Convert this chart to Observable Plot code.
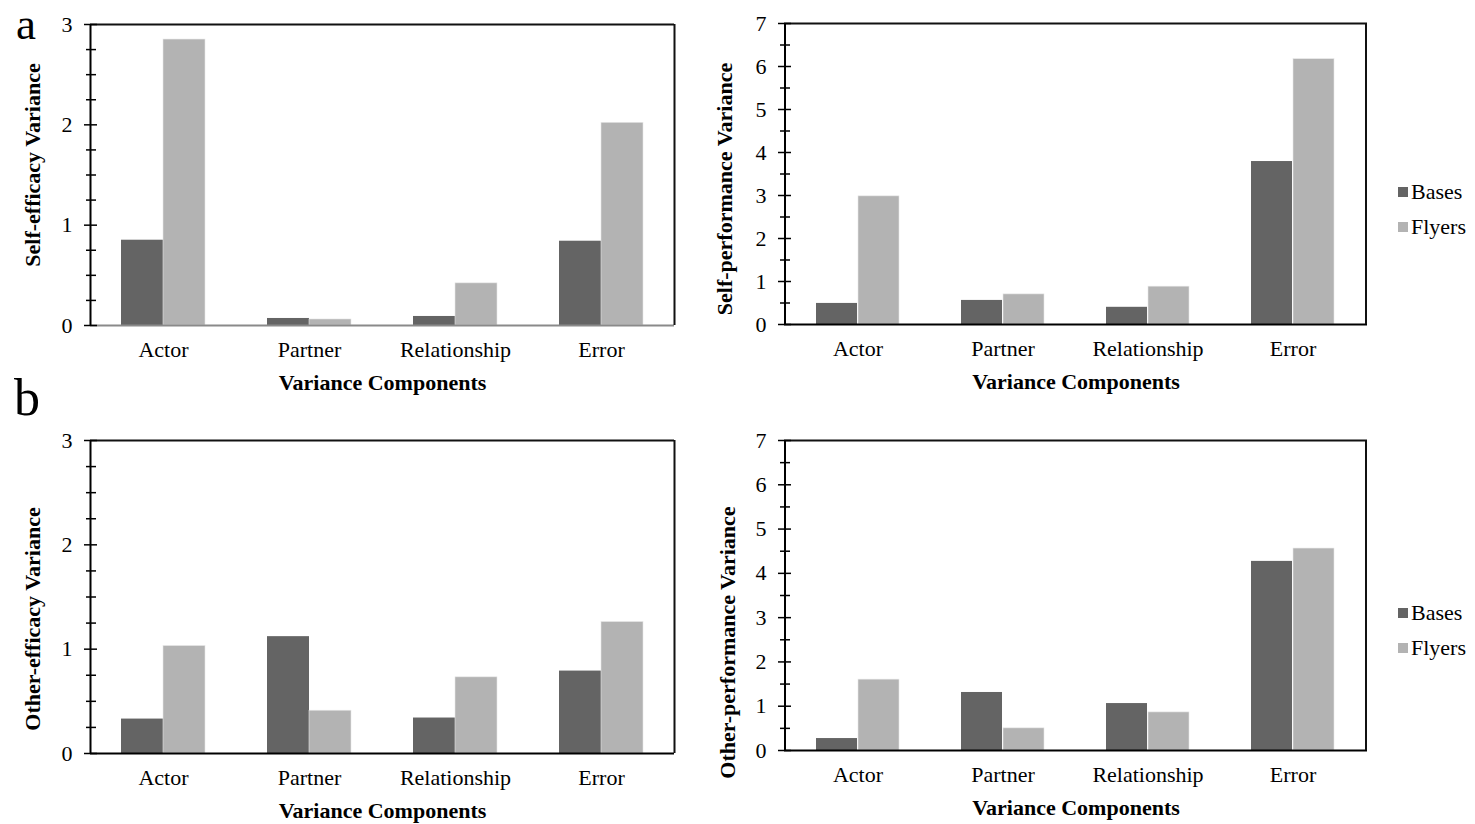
<!DOCTYPE html>
<html>
<head>
<meta charset="utf-8">
<script src="https://cdn.jsdelivr.net/npm/d3@7"></script>
<script src="https://cdn.jsdelivr.net/npm/@observablehq/plot@0.6"></script>
<style>
  body { margin: 0; background: #fff; }
  #root { position: relative; width: 1475px; height: 824px; font-family: "Liberation Serif", "Times New Roman", serif; }
  .panel { position: absolute; }
  .letter { position: absolute; line-height: 1.11; color: #000; }
  .legend { position: absolute; font-size: 22px; color: #000; }
  .legend div { display: flex; align-items: center; height: 35px; }
  .legend span.sw { display: inline-block; width: 10px; height: 10px; margin-right: 3px; }
</style>
</head>
<body>
<div id="root"></div>
<script>
const categories = ["Actor", "Partner", "Relationship", "Error"];
const seriesNames = ["Bases", "Flyers"];
const seriesColors = ["#646464", "#b3b3b3"];

const selfEfficacyBases  = [0.85, 0.07, 0.09, 0.84];
const selfEfficacyFlyers = [2.85, 0.06, 0.42, 2.02];
const selfPerfBases      = [0.49, 0.56, 0.40, 3.79];
const selfPerfFlyers     = [2.98, 0.70, 0.88, 6.17];
const otherEfficacyBases  = [0.33, 1.12, 0.34, 0.79];
const otherEfficacyFlyers = [1.03, 0.41, 0.73, 1.26];
const otherPerfBases      = [0.27, 1.31, 1.06, 4.27];
const otherPerfFlyers     = [1.60, 0.50, 0.86, 4.56];

const efficacyMajor = [0, 1, 2, 3];
const efficacyMinor = [0.25, 0.5, 0.75, 1.25, 1.5, 1.75, 2.25, 2.5, 2.75];
const perfMajor = [0, 1, 2, 3, 4, 5, 6, 7];
const perfMinor = [0.5, 1.5, 2.5, 3.5, 4.5, 5.5, 6.5];

const xTitle = "Variance Components";
const FONT = '"Liberation Serif", "Times New Roman", serif';

function panel(o) {
  const rows = (vals) => categories.map((c, i) => ({category: c, value: vals[i]}));
  const half = 42;
  return Plot.plot({
    width: o.width, height: o.height,
    marginLeft: o.ml, marginRight: o.mr, marginTop: o.mt, marginBottom: o.mb,
    style: {fontFamily: FONT, fontSize: "22px", color: "#000", background: "white", overflow: "visible"},
    x: {domain: categories, paddingInner: 0.425, paddingOuter: 0.2125, axis: null},
    y: {domain: [0, o.max], axis: null},
    marks: [
      Plot.barY(rows(o.bases), {x: "category", y: "value", fill: seriesColors[0], insetRight: half}),
      Plot.barY(rows(o.flyers), {x: "category", y: "value", fill: seriesColors[1], insetLeft: half, stroke: "#e6e6e6", strokeWidth: 0.6}),
      Plot.ruleY([0], {stroke: o.zeroColor, strokeWidth: 2}),
      Plot.ruleY([o.max], {stroke: "#111", strokeWidth: 2}),
      Plot.ruleX([categories[categories.length - 1]], {stroke: "#111", strokeWidth: 2, dx: 73, y1: 0, y2: o.max}),
      Plot.axisY({ticks: o.major, tickSize: 13, dx: 7, tickPadding: 12, tickFormat: d3.format("d"), stroke: "#000", strokeWidth: 1.5, fontSize: 22, label: null}),
      Plot.axisY({ticks: o.minor, tickSize: 10, dx: 6, text: null, stroke: "#000", strokeWidth: 1.5, label: null}),
      Plot.ruleX([categories[0]], {stroke: "#000", strokeWidth: 2, dx: -73, y1: 0, y2: o.max}),
      Plot.axisX({tickSize: 0, tickPadding: 16, fontSize: 22, label: null}),
      Plot.text([xTitle], {frameAnchor: "bottom", dy: 57, text: d => d, fontWeight: "bold", fontSize: 22, lineAnchor: "middle"}),
      Plot.text([o.yTitle], {frameAnchor: "left", dx: o.ylDx, dy: o.ylDy, rotate: -90, text: d => d, fontWeight: "bold", fontSize: 22, lineAnchor: "middle", textAnchor: "middle"})
    ]
  });
}

const root = document.getElementById("root");
function place(node, left, top) {
  node.classList.add("panel");
  node.style.left = left + "px";
  node.style.top = top + "px";
  root.appendChild(node);
}

place(panel({width: 737, height: 412, ml: 90, mr: 63, mt: 24, mb: 87, max: 3,
  bases: selfEfficacyBases, flyers: selfEfficacyFlyers, major: efficacyMajor, minor: efficacyMinor,
  yTitle: "Self-efficacy Variance", ylDx: -58, ylDy: -10, zeroColor: "#8a8a8a"}), 0, 0);
place(panel({width: 785, height: 412, ml: 94, mr: 108, mt: 23, mb: 88, max: 7,
  bases: selfPerfBases, flyers: selfPerfFlyers, major: perfMajor, minor: perfMinor,
  yTitle: "Self-performance Variance", ylDx: -60, ylDy: 15, zeroColor: "#000"}), 690, 0);
place(panel({width: 737, height: 412, ml: 90, mr: 63, mt: 28, mb: 71, max: 3,
  bases: otherEfficacyBases, flyers: otherEfficacyFlyers, major: efficacyMajor, minor: efficacyMinor,
  yTitle: "Other-efficacy Variance", ylDx: -58, ylDy: 22, zeroColor: "#000"}), 0, 412);
place(panel({width: 785, height: 412, ml: 94, mr: 108, mt: 28, mb: 74, max: 7,
  bases: otherPerfBases, flyers: otherPerfFlyers, major: perfMajor, minor: perfMinor,
  yTitle: "Other-performance Variance", ylDx: -57, ylDy: 47, zeroColor: "#000"}), 690, 412);

function letter(t, left, top, size) {
  const d = document.createElement("div");
  d.className = "letter"; d.textContent = t;
  d.style.left = left + "px"; d.style.top = top + "px"; d.style.fontSize = size + "px";
  root.appendChild(d);
}
letter("a", 16, 0, 45);
letter("b", 14, 369, 52);

function legend(top) {
  const lg = document.createElement("div");
  lg.className = "legend";
  lg.style.left = "1398px"; lg.style.top = top + "px";
  seriesNames.forEach((n, i) => {
    const row = document.createElement("div");
    const sw = document.createElement("span");
    sw.className = "sw"; sw.style.background = seriesColors[i];
    row.appendChild(sw);
    row.appendChild(document.createTextNode(n));
    lg.appendChild(row);
  });
  root.appendChild(lg);
}
legend(174);
legend(595);
</script>
</body>
</html>
